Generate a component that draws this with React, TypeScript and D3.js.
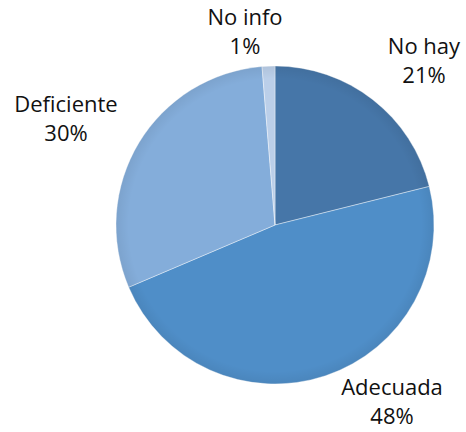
import React from "react";
import * as d3 from "d3";

const categories = ["No hay", "Adecuada", "Deficiente", "No info"];
const values = [21.1, 47.5, 30.1, 1.3];
const percentLabels = ["21%", "48%", "30%", "1%"];
const colors = ["#4676A8", "#4F8EC8", "#84ADDA", "#BBCFE9"];
// label anchors (center x, first-line baseline) — layout only
const labelAnchors: [number, number][] = [
  [424, 54],
  [392, 395],
  [66, 112],
  [245, 25],
];

const W = 466;
const H = 432;
const cx = 275;
const cy = 225;
const R = 159;

export default function App() {
  const pie = d3.pie<number>().sort(null).value((d) => d)(values);
  const arc = d3.arc<d3.PieArcDatum<number>>().innerRadius(0).outerRadius(R);
  return (
    <svg
      width={W}
      height={H}
      style={{ position: "absolute", left: 0, top: 0, background: "#fff" }}
      fontFamily="'Open Sans', sans-serif"
    >
      <defs>
        <radialGradient id="edge" cx="50%" cy="50%" r="50%">
          <stop offset="92%" stopColor="#000" stopOpacity={0} />
          <stop offset="100%" stopColor="#000" stopOpacity={0.06} />
        </radialGradient>
      </defs>
      <g transform={`translate(${cx},${cy})`}>
        {pie.map((p, i) => (
          <path
            key={categories[i]}
            d={arc(p) || ""}
            fill={colors[i]}
            stroke="#ffffff"
            strokeOpacity={0.5}
            strokeWidth={0.8}
          />
        ))}
        <circle r={R} fill="url(#edge)" />
      </g>
      {categories.map((c, i) => (
        <text
          key={c}
          x={labelAnchors[i][0]}
          y={labelAnchors[i][1]}
          textAnchor="middle"
          fontSize={22}
          fill="#111"
        >
          <tspan x={labelAnchors[i][0]}>{c}</tspan>
          <tspan x={labelAnchors[i][0]} dy={29}>
            {percentLabels[i]}
          </tspan>
        </text>
      ))}
    </svg>
  );
}
